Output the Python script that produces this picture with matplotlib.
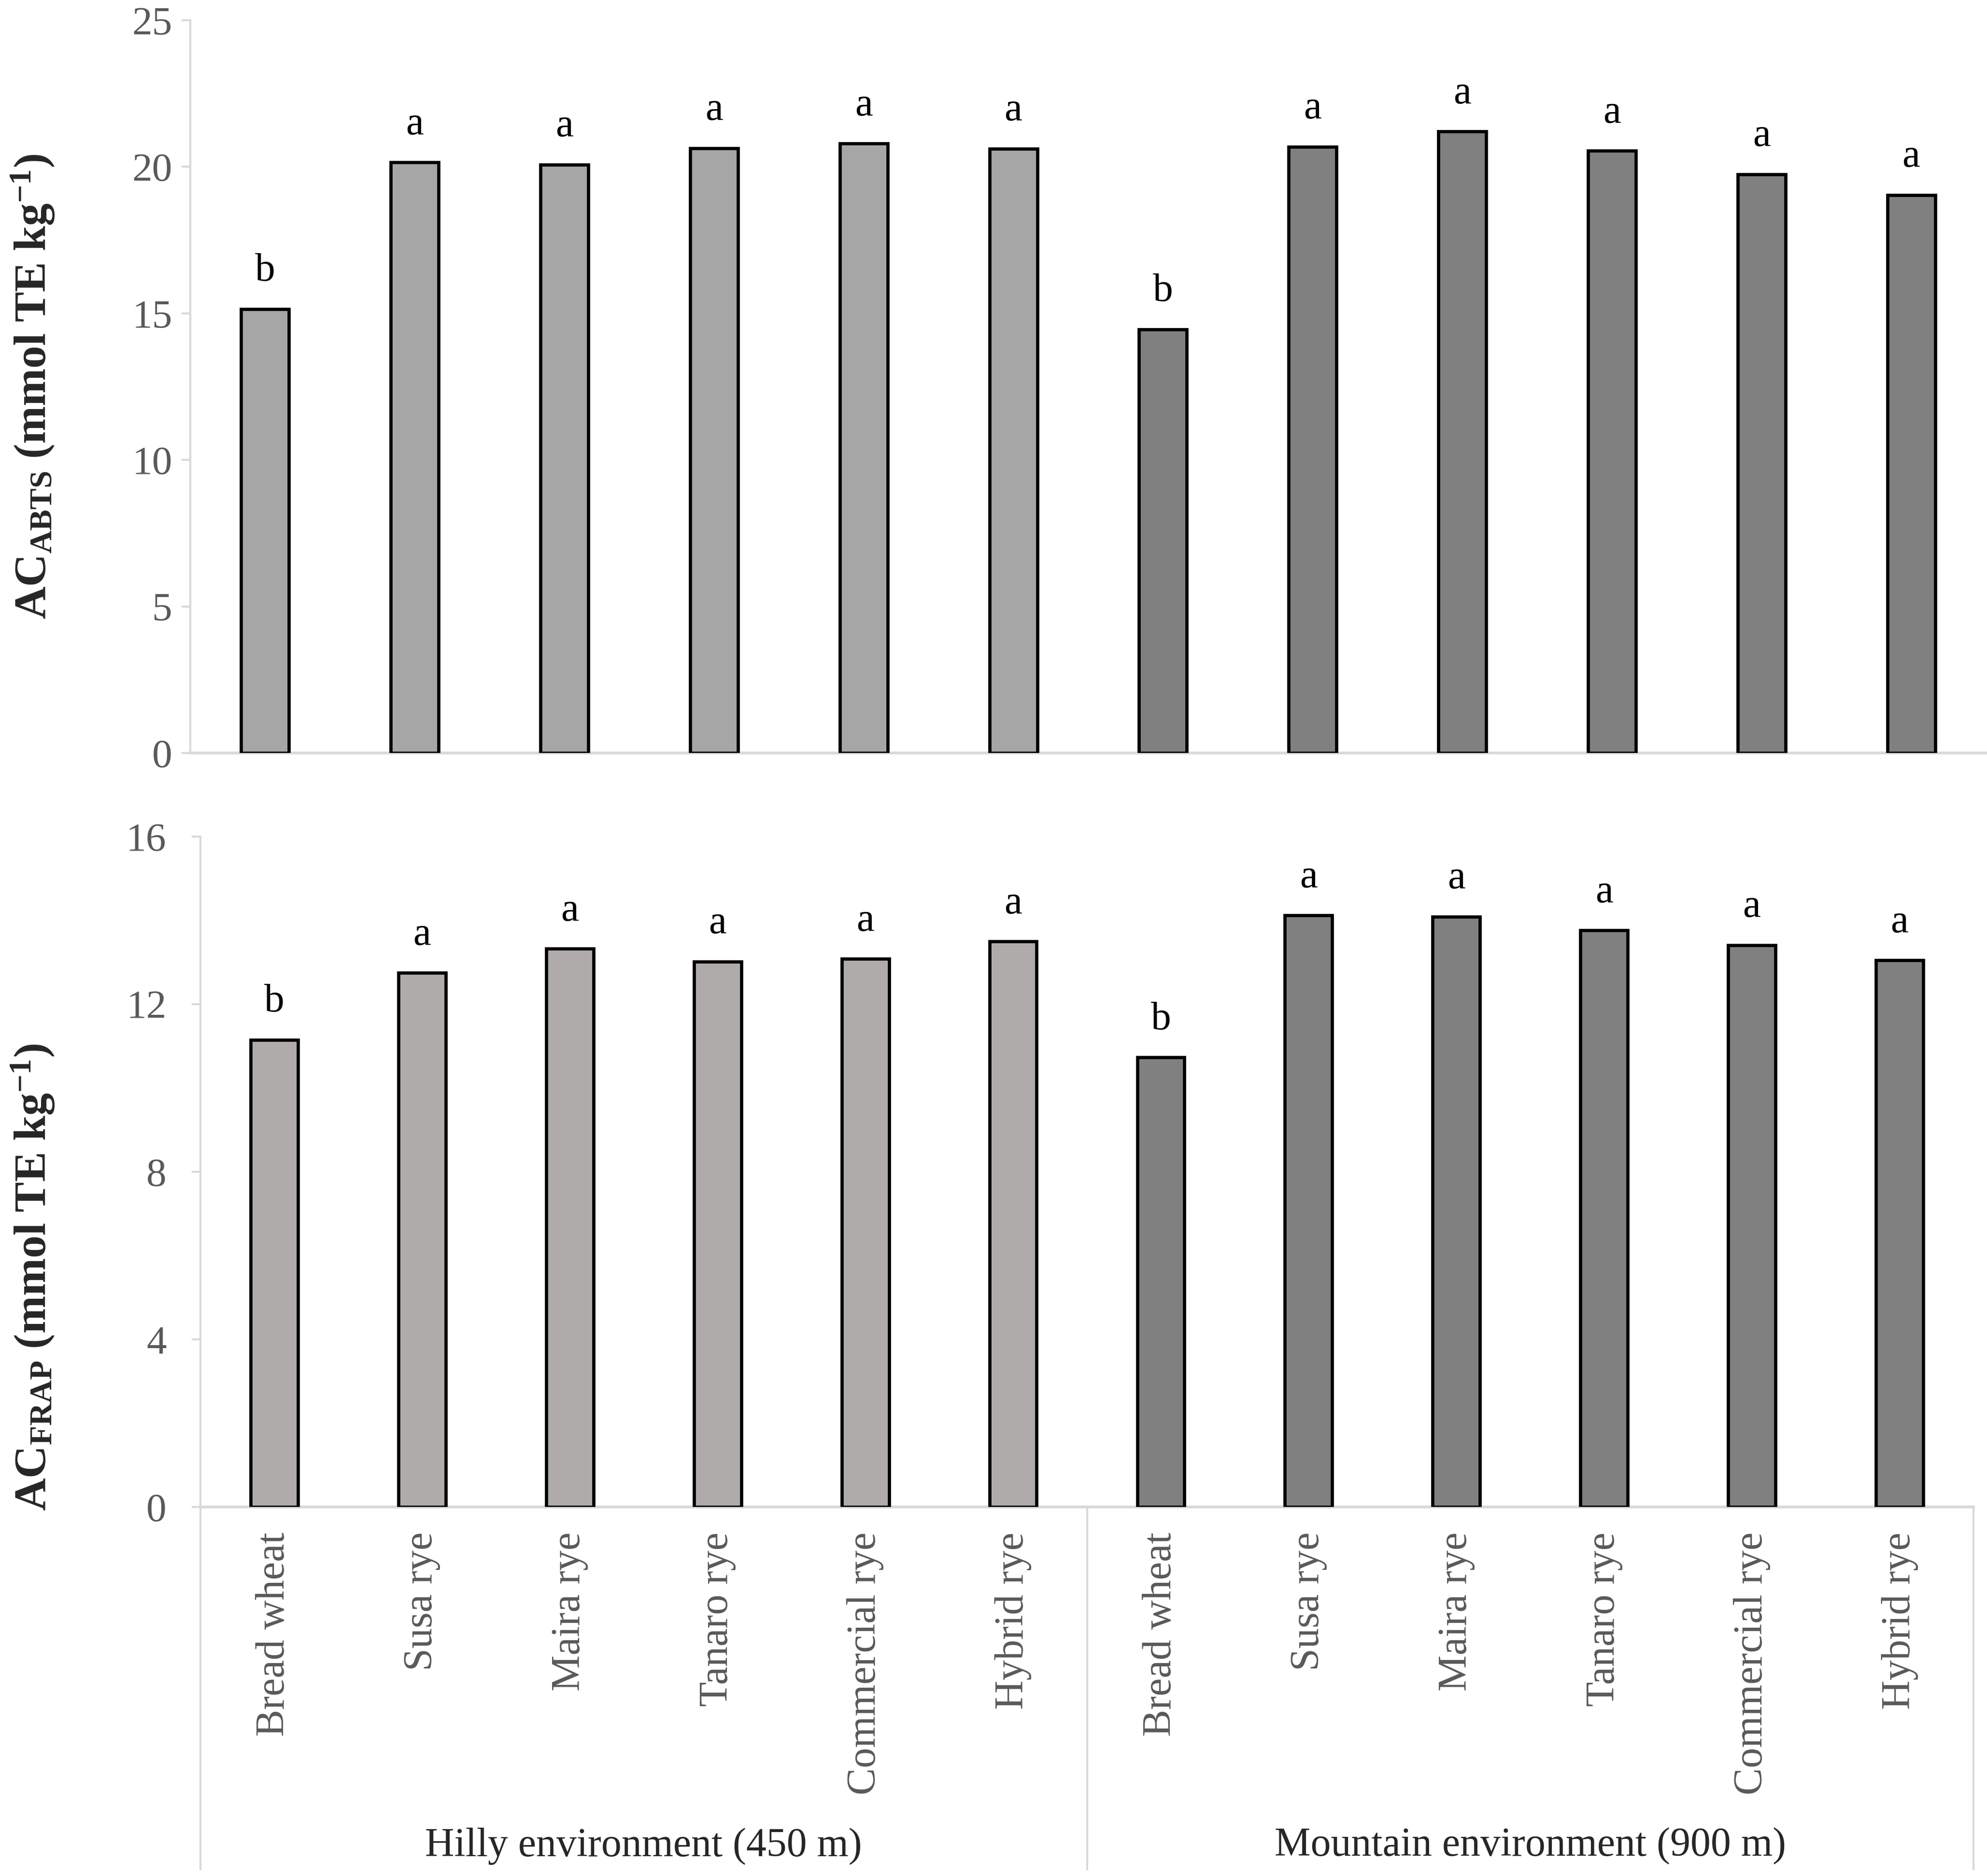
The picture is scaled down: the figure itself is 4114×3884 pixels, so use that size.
import matplotlib
matplotlib.use('Agg')
import matplotlib.pyplot as plt
import numpy as np
from matplotlib.transforms import blended_transform_factory

# ---------------- data ----------------
categories = ['Bread wheat', 'Susa rye', 'Maira rye', 'Tanaro rye', 'Commercial rye', 'Hybrid rye']
environments = ['Hilly environment (450 m)', 'Mountain environment (900 m)']

abts_hilly = [15.15, 20.15, 20.08, 20.64, 20.80, 20.62]
abts_mountain = [14.46, 20.69, 21.21, 20.55, 19.75, 19.04]
abts_hilly_letters = ['b', 'a', 'a', 'a', 'a', 'a']
abts_mountain_letters = ['b', 'a', 'a', 'a', 'a', 'a']

frap_hilly = [11.15, 12.75, 13.32, 13.02, 13.08, 13.50]
frap_mountain = [10.73, 14.12, 14.09, 13.76, 13.41, 13.05]
frap_hilly_letters = ['b', 'a', 'a', 'a', 'a', 'a']
frap_mountain_letters = ['b', 'a', 'a', 'a', 'a', 'a']

abts_ticks = [0, 5, 10, 15, 20, 25]
frap_ticks = [0, 4, 8, 12, 16]

# ---------------- style ----------------
plt.rcParams['font.family'] = ['Liberation Serif', 'DejaVu Serif']
plt.rcParams['mathtext.fontset'] = 'custom'
plt.rcParams['mathtext.rm'] = 'Liberation Serif'
plt.rcParams['mathtext.bf'] = 'Liberation Serif:bold'
plt.rcParams['mathtext.it'] = 'Liberation Serif:italic'

tick_color = '#595959'
spine_color = '#D9D9D9'
mountain_color = '#808080'

W, H = 4114, 3884
dpi = 300
fig = plt.figure(figsize=(W / dpi, H / dpi), dpi=dpi)


def px_axes(x0, y0, x1, y1):
    return fig.add_axes([x0 / W, 1 - y1 / H, (x1 - x0) / W, (y1 - y0) / H])


ax_top = px_axes(394, 42, 4112, 1559)
ax_bot = px_axes(415, 1732, 4086, 3120)

labels_all = categories + categories
x = np.arange(len(labels_all))


def draw(ax, hilly, mountain, hl, ml, hilly_color, ticks, pad):
    vals = list(hilly) + list(mountain)
    lets = list(hl) + list(ml)
    cols = [hilly_color] * len(hilly) + [mountain_color] * len(mountain)
    bars = ax.bar(x, vals, width=0.32, color=cols, edgecolor='black', linewidth=1.6, zorder=3)
    for b, l in zip(bars, lets):
        ax.annotate(l, (b.get_x() + b.get_width() / 2, b.get_height()),
                    xytext=(0, 14), textcoords='offset points',
                    ha='center', va='baseline', fontsize=20, color='black')
    ax.set_xlim(-0.5, len(vals) - 0.5)
    ax.set_ylim(ticks[0], ticks[-1])
    ax.set_yticks(ticks)
    ax.set_yticklabels([str(t) for t in ticks])
    for s in ['top', 'right']:
        ax.spines[s].set_visible(False)
    ax.spines['left'].set_color(spine_color)
    ax.spines['left'].set_linewidth(1.0)
    ax.spines['bottom'].set_color(spine_color)
    ax.spines['bottom'].set_linewidth(1.4)
    ax.tick_params(axis='y', direction='out', length=4.4, width=1.0, color=spine_color,
                   labelcolor=tick_color, labelsize=20, pad=pad)
    ax.tick_params(axis='x', length=0)


draw(ax_top, abts_hilly, abts_mountain, abts_hilly_letters, abts_mountain_letters,
     '#A6A6A6', abts_ticks, 4.5)
ax_top.set_xticks([])

draw(ax_bot, frap_hilly, frap_mountain, frap_hilly_letters, frap_mountain_letters,
     '#AFABAB', frap_ticks, 12.5)
ax_bot.set_xticks(x)
ax_bot.set_xticklabels(labels_all, rotation=90, fontsize=20.2, color=tick_color, va='top')
ax_bot.tick_params(axis='x', pad=12.5)

# group separator lines and group labels
trans = blended_transform_factory(ax_bot.transData, ax_bot.transAxes)
bottom_ext = -(3870 - 3120) / (3120 - 1732)
for xs in [-0.5, 5.5, 11.5]:
    ax_bot.plot([xs, xs], [0, bottom_ext], transform=trans, color=spine_color,
                linewidth=1.0, clip_on=False, zorder=1)
for i, env in enumerate(environments):
    ax_bot.text(2.5 + 6 * i, -(3822 - 3120) / (3120 - 1732), env, transform=trans,
                ha='center', va='center', fontsize=20.1, color='#262626')

# y labels
fig.text(0.0165, 1 - 800 / H, r'$\mathbf{AC_{ABTS}\ (mmol\ TE\ kg^{-1})}$',
         rotation=90, ha='center', va='center', fontsize=22.5, color='#262626')
fig.text(0.0165, 1 - 2644 / H, r'$\mathbf{AC_{FRAP}\ (mmol\ TE\ kg^{-1})}$',
         rotation=90, ha='center', va='center', fontsize=22.5, color='#262626')

fig.savefig('out.png', dpi=dpi)
